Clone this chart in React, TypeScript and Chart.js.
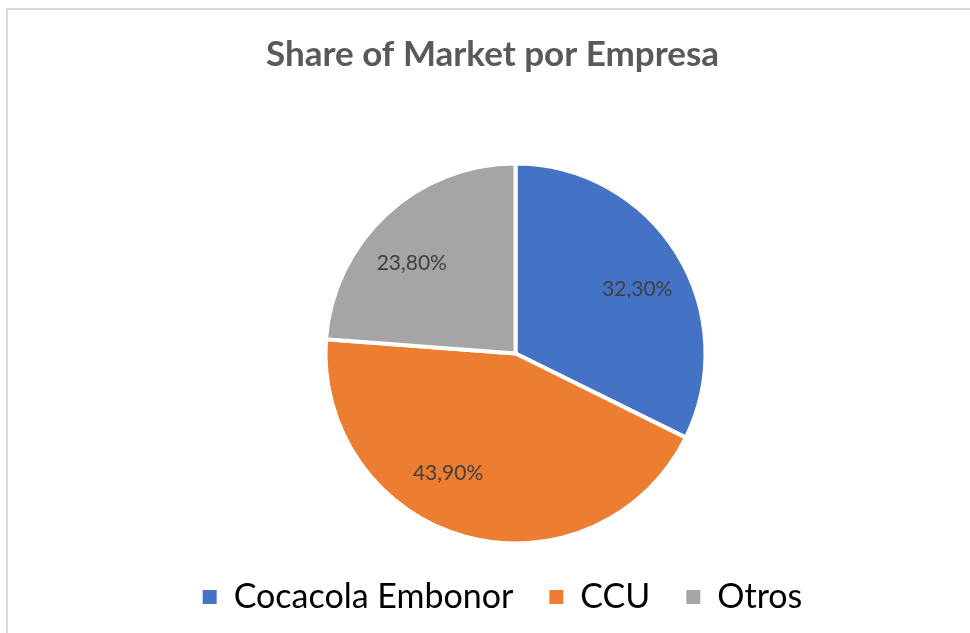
import { useEffect, useRef } from 'react';
import { Chart, registerables } from 'chart.js';

Chart.register(...registerables);

// ---- data ----
const categories = ['Cocacola Embonor', 'CCU', 'Otros'];
const shareValues = [32.3, 43.9, 23.8];
const sliceColors = ['#4472C4', '#ED7D31', '#A5A5A5'];
const chartTitle = 'Share of Market por Empresa';

// ---- layout / style constants ----
const FONT = 'Lato';
const LABEL_ANGLE_SHIFT_DEG = [4, 14, -6];
const LABEL_RADIUS_FRACTION = 0.725;
const PIE_DX = 23;
const PIE_DY = -3;
const LEGEND_DX = 10;

const fmtPct = (v: number) => v.toFixed(2).replace('.', ',') + '%';

const layoutTweak = {
  id: 'layoutTweak',
  afterLayout(chart: any) {
    const a = chart.chartArea;
    a.left += PIE_DX;
    a.right += PIE_DX;
    a.top += PIE_DY;
    a.bottom += PIE_DY;
    const lg = chart.legend;
    if (lg) {
      lg.left += LEGEND_DX;
      lg.right += LEGEND_DX;
    }
  },
};

const sliceLabels = {
  id: 'sliceLabels',
  afterDatasetsDraw(chart: any) {
    const ctx = chart.ctx;
    const meta = chart.getDatasetMeta(0);
    ctx.save();
    ctx.font = `21px ${FONT}`;
    ctx.fillStyle = '#404040';
    ctx.textAlign = 'center';
    ctx.textBaseline = 'middle';
    meta.data.forEach((arc: any, i: number) => {
      const { x, y, startAngle, endAngle, outerRadius } = arc.getProps(
        ['x', 'y', 'startAngle', 'endAngle', 'outerRadius'],
        true
      );
      const a = (startAngle + endAngle) / 2 + (LABEL_ANGLE_SHIFT_DEG[i] * Math.PI) / 180;
      const r = outerRadius * LABEL_RADIUS_FRACTION;
      ctx.fillText(fmtPct(shareValues[i]), x + Math.cos(a) * r, y + Math.sin(a) * r);
    });
    ctx.restore();
  },
};

export default function App() {
  const ref = useRef<HTMLCanvasElement | null>(null);

  useEffect(() => {
    if (!ref.current) return;
    const chart = new Chart(ref.current, {
      type: 'pie',
      data: {
        labels: categories,
        datasets: [
          {
            data: shareValues,
            backgroundColor: sliceColors,
            borderColor: '#ffffff',
            borderWidth: 4,
            radius: 190,
            hoverOffset: 0,
          },
        ],
      },
      options: {
        animation: false,
        responsive: false,
        events: [],
        layout: { padding: { left: 15, right: 0, top: 0, bottom: 9 } },
        plugins: {
          title: {
            display: true,
            text: chartTitle,
            color: '#595959',
            font: { family: FONT, size: 35, weight: 'bold' },
            padding: { top: 34, bottom: 93 },
          },
          legend: {
            display: true,
            position: 'bottom',
            labels: {
              color: '#595959',
              font: { family: FONT, size: 34 },
              boxWidth: 14,
              boxHeight: 14,
              padding: 36,
              generateLabels: () =>
                categories.map((t, i) => ({
                  text: t,
                  fillStyle: sliceColors[i],
                  strokeStyle: sliceColors[i],
                  lineWidth: 0,
                  hidden: false,
                  index: i,
                })),
            },
          },
          tooltip: { enabled: false },
        },
      },
      plugins: [layoutTweak, sliceLabels],
    });
    return () => chart.destroy();
  }, []);

  return (
    <div>
      <div
        style={{
          position: 'fixed',
          left: 6,
          top: 8,
          width: 990,
          height: 650,
          border: '2px solid #d9d9d9',
          boxSizing: 'border-box',
          background: '#ffffff',
        }}
      />
      <canvas
        ref={ref}
        width={970}
        height={633}
        style={{ position: 'fixed', left: 0, top: 0, width: 970, height: 633 }}
      />
    </div>
  );
}
